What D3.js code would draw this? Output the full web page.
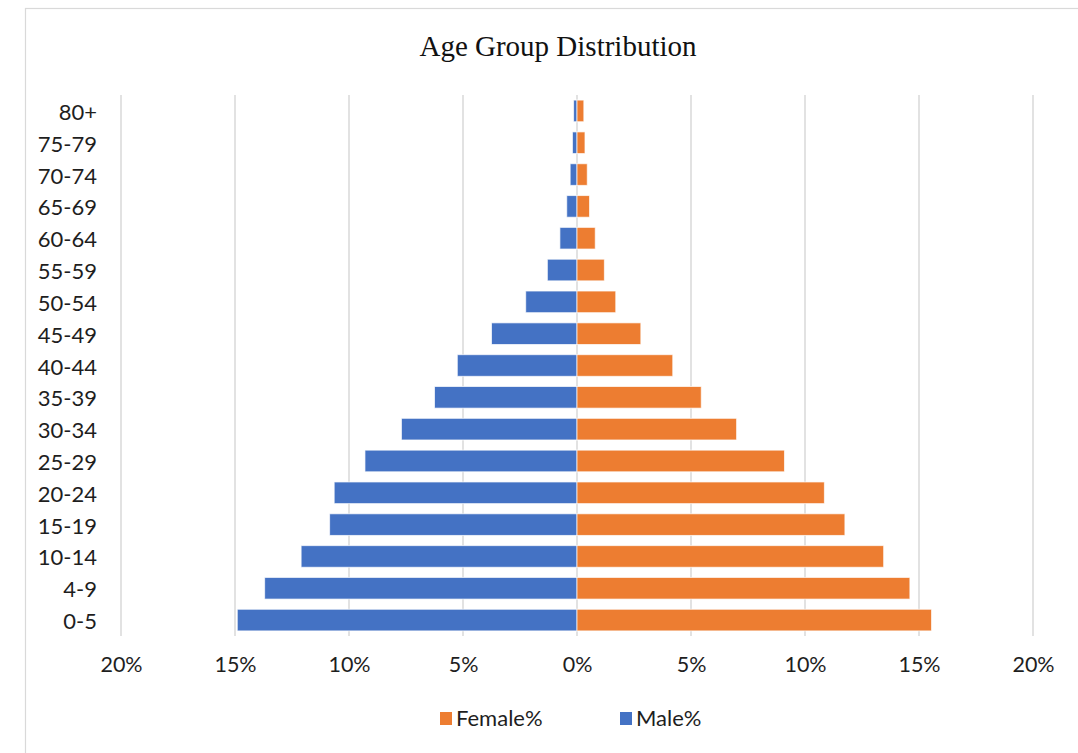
<!DOCTYPE html>
<html>
<head>
<meta charset="utf-8">
<script src="https://cdn.jsdelivr.net/npm/d3@7"></script>
<style>
  html, body { margin: 0; padding: 0; background: #fff; }
  svg { display: block; }
</style>
</head>
<body>
<svg id="chart" width="1078" height="753"></svg>
<script>
// Age groups, youngest first
const ageGroups = ["0-5", "4-9", "10-14", "15-19", "20-24", "25-29", "30-34", "35-39",
  "40-44", "45-49", "50-54", "55-59", "60-64", "65-69", "70-74", "75-79", "80+"];

// Share of population per age group (%)
const malePct = [14.9, 13.7, 12.1, 10.85, 10.65, 9.3, 7.7, 6.25,
  5.25, 3.75, 2.25, 1.3, 0.75, 0.45, 0.3, 0.2, 0.15];
const femalePct = [15.55, 14.6, 13.45, 11.75, 10.85, 9.1, 7.0, 5.45,
  4.2, 2.8, 1.7, 1.2, 0.8, 0.55, 0.45, 0.35, 0.3];

// Axis ticks (%), shown as absolute values on both sides
const xTicks = [-20, -15, -10, -5, 0, 5, 10, 15, 20];

const legendItems = [
  { label: "Female%", color: "#ED7D31" },
  { label: "Male%", color: "#4472C4" }
];

const svg = d3.select("#chart");
const labelFont = "Lato, 'Open Sans', sans-serif";

// Chart frame
svg.append("rect")
  .attr("x", 25.5).attr("y", 8.5)
  .attr("width", 1100).attr("height", 800)
  .attr("fill", "#fff")
  .attr("stroke", "#d9d9d9")
  .attr("stroke-width", 1.2);

// Title
svg.append("text")
  .attr("x", 558).attr("y", 56)
  .attr("text-anchor", "middle")
  .attr("font-family", "'Liberation Serif', 'Times New Roman', serif")
  .attr("font-size", 29)
  .attr("fill", "#111")
  .text("Age Group Distribution");

const x = d3.scaleLinear().domain([-20, 20]).range([121, 1033]);
const y = d3.scaleBand()
  .domain(ageGroups.slice().reverse())
  .range([95, 636])
  .paddingInner(0.32)
  .paddingOuter(0.16);

// Vertical gridlines
svg.append("g")
  .selectAll("line")
  .data(xTicks)
  .join("line")
  .attr("x1", d => x(d)).attr("x2", d => x(d))
  .attr("y1", 95).attr("y2", 636)
  .attr("stroke", "#d9d9d9")
  .attr("stroke-width", 1.5);

// Bars
const rows = ageGroups.map((g, i) => ({ group: g, male: malePct[i], female: femalePct[i] }));

svg.append("g")
  .selectAll("rect")
  .data(rows)
  .join("rect")
  .attr("x", d => x(-d.male))
  .attr("y", d => y(d.group))
  .attr("width", d => x(0) - x(-d.male))
  .attr("height", y.bandwidth())
  .attr("fill", "#4472C4")
  .attr("stroke", "#fff")
  .attr("stroke-opacity", 0.7)
  .attr("stroke-width", 1);

svg.append("g")
  .selectAll("rect")
  .data(rows)
  .join("rect")
  .attr("x", x(0))
  .attr("y", d => y(d.group))
  .attr("width", d => x(d.female) - x(0))
  .attr("height", y.bandwidth())
  .attr("fill", "#ED7D31")
  .attr("stroke", "#fff")
  .attr("stroke-opacity", 0.7)
  .attr("stroke-width", 1);

// Category axis labels
const yAxis = svg.append("g")
  .attr("transform", "translate(97,2)")
  .call(d3.axisLeft(y).tickSize(0).tickPadding(0));
yAxis.select(".domain").remove();
yAxis.selectAll("text")
  .attr("font-family", labelFont)
  .attr("font-size", 22)
  .attr("fill", "#1e1e1e");

// Value axis labels
const xAxis = svg.append("g")
  .attr("transform", "translate(0,651)")
  .call(d3.axisBottom(x)
    .tickValues(xTicks)
    .tickSize(0)
    .tickPadding(6)
    .tickFormat(d => Math.abs(d) + "%"));
xAxis.select(".domain").remove();
xAxis.selectAll("text")
  .attr("font-family", labelFont)
  .attr("font-size", 21.5)
  .attr("fill", "#1e1e1e");

// Legend
const legendPos = [440, 620];
const legend = svg.append("g");
legendItems.forEach((item, i) => {
  const gItem = legend.append("g").attr("transform", `translate(${legendPos[i]},0)`);
  gItem.append("rect")
    .attr("x", 0).attr("y", 712)
    .attr("width", 12).attr("height", 13)
    .attr("fill", item.color);
  gItem.append("text")
    .attr("x", 16).attr("y", 726)
    .attr("font-family", labelFont)
    .attr("font-size", 22)
    .attr("fill", "#1e1e1e")
    .text(item.label);
});
</script>
</body>
</html>
